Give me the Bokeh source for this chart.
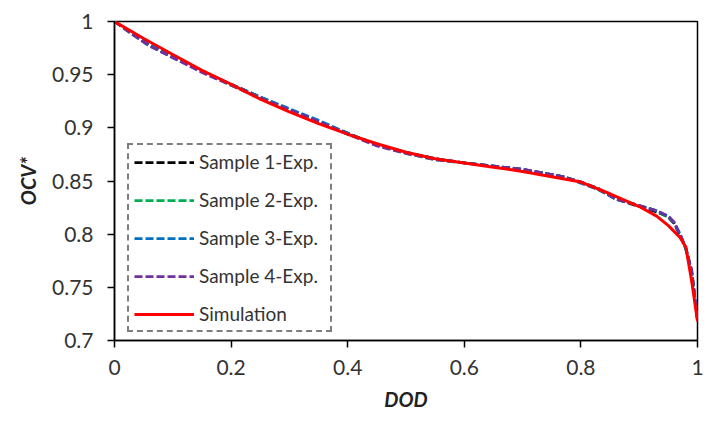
from bokeh.plotting import figure
from bokeh.models import Legend, LegendItem, FixedTicker
from bokeh.embed import file_html
from bokeh.resources import INLINE

# ---- data ----
dod_exp = [0, 0.03, 0.06, 0.1, 0.15, 0.2, 0.25, 0.3, 0.35, 0.4, 0.45, 0.5, 0.55, 0.6,
           0.65, 0.7, 0.75, 0.77, 0.8, 0.83, 0.86, 0.9, 0.93, 0.95, 0.96, 0.97, 0.98, 0.99, 1.0]
ocv_s1 = [1.0, 0.989, 0.978, 0.967, 0.953, 0.941, 0.929, 0.917, 0.906, 0.895, 0.884, 0.877, 0.871,
          0.867, 0.864, 0.861, 0.856, 0.854, 0.849, 0.842, 0.833, 0.826, 0.821, 0.816, 0.810, 0.799, 0.786, 0.764, 0.72]
ocv_s2 = [1.0, 0.988, 0.977, 0.966, 0.953, 0.940, 0.928, 0.917, 0.906, 0.894, 0.884, 0.876, 0.870,
          0.867, 0.864, 0.860, 0.856, 0.854, 0.849, 0.843, 0.833, 0.827, 0.822, 0.816, 0.811, 0.800, 0.786, 0.765, 0.72]
ocv_s3 = [1.0, 0.989, 0.978, 0.967, 0.953, 0.941, 0.929, 0.918, 0.907, 0.895, 0.884, 0.877, 0.871,
          0.867, 0.864, 0.861, 0.856, 0.854, 0.848, 0.842, 0.833, 0.827, 0.822, 0.817, 0.811, 0.800, 0.787, 0.766, 0.72]
ocv_s4 = [1.0, 0.988, 0.977, 0.966, 0.952, 0.940, 0.928, 0.917, 0.906, 0.894, 0.883, 0.876, 0.870,
          0.867, 0.864, 0.861, 0.856, 0.854, 0.849, 0.843, 0.833, 0.827, 0.822, 0.817, 0.811, 0.800, 0.787, 0.766, 0.72]

dod_sim = [0, 0.05, 0.1, 0.15, 0.2, 0.25, 0.3, 0.35, 0.4, 0.45, 0.5, 0.55, 0.6, 0.65, 0.7,
           0.75, 0.8, 0.85, 0.9, 0.93, 0.95, 0.97, 0.98, 0.99, 1.0]
ocv_sim = [1.0, 0.984, 0.969, 0.954, 0.941, 0.927, 0.915, 0.904, 0.894, 0.885, 0.877, 0.871, 0.867,
           0.863, 0.859, 0.854, 0.849, 0.838, 0.826, 0.817, 0.808, 0.797, 0.788, 0.756, 0.718]

series_names = ["Sample 1-Exp.", "Sample 2-Exp.", "Sample 3-Exp.", "Sample 4-Exp.", "Simulation"]
x_ticks = [0, 0.2, 0.4, 0.6, 0.8, 1.0]
x_tick_labels = ["0", "0.2", "0.4", "0.6", "0.8", "1"]
y_ticks = [0.7, 0.75, 0.8, 0.85, 0.9, 0.95, 1.0]
y_tick_labels = ["0.7", "0.75", "0.8", "0.85", "0.9", "0.95", "1"]

FONT = "Lato"

p = figure(width=705, height=413, output_backend="svg", toolbar_location=None,
           x_range=(0, 1), y_range=(0.7, 1.0),
           min_border_left=114, min_border_top=21, min_border_bottom=72, min_border_right=8)
p.grid.visible = False
p.outline_line_color = "black"
p.outline_line_width = 1.5
p.background_fill_color = "white"

colors = ["#000000", "#00b050", "#0070c0", "#7030a0"]
renderers = []
for ys, c in zip([ocv_s1, ocv_s2, ocv_s3, ocv_s4], colors):
    r = p.line(dod_exp, ys, line_color=c, line_width=2.75, line_dash="8 3")
    renderers.append(r)
r_sim = p.line(dod_sim, ocv_sim, line_color="#ff0000", line_width=3)
renderers.append(r_sim)

legend = Legend(items=[LegendItem(label=n, renderers=[r]) for n, r in zip(series_names, renderers)],
                location=(13, 8), orientation="vertical",
                border_line_color="black", border_line_width=2, border_line_dash="2 1",
                background_fill_alpha=1.0, padding=5, spacing=15,
                glyph_width=60, glyph_height=20, label_height=20, label_standoff=5,
                label_width=126,
                label_text_font=FONT, label_text_font_size="19px", label_text_color="#333333",
                margin=0)
p.add_layout(legend, "center")

for ax in [p.xaxis[0], p.yaxis[0]]:
    ax.axis_line_width = 1.5
    ax.axis_line_color = "black"
    ax.major_tick_line_width = 1.5
    ax.major_tick_in = 0
    ax.major_tick_out = 7
    ax.minor_tick_line_color = None
    ax.major_label_text_font = FONT
    ax.major_label_text_font_size = "21px"
    ax.major_label_text_color = "#333333"
    ax.axis_label_text_font = FONT
    ax.axis_label_text_font_size = "20px"
    ax.axis_label_text_font_style = "bold italic"
    ax.axis_label_text_color = "#222222"

p.xaxis.ticker = FixedTicker(ticks=x_ticks)
p.xaxis.major_label_overrides = dict(zip(x_ticks, x_tick_labels))
p.xaxis.major_label_standoff = 12
p.xaxis.axis_label = "DOD"
p.xaxis.axis_label_standoff = 9

p.yaxis.ticker = FixedTicker(ticks=y_ticks)
p.yaxis.major_label_overrides = dict(zip(y_ticks, y_tick_labels))
p.yaxis.major_label_standoff = 14
p.yaxis.axis_label = "OCV*"
p.yaxis.axis_label_standoff = 9

open("out.html", "w").write(file_html(p, INLINE))
